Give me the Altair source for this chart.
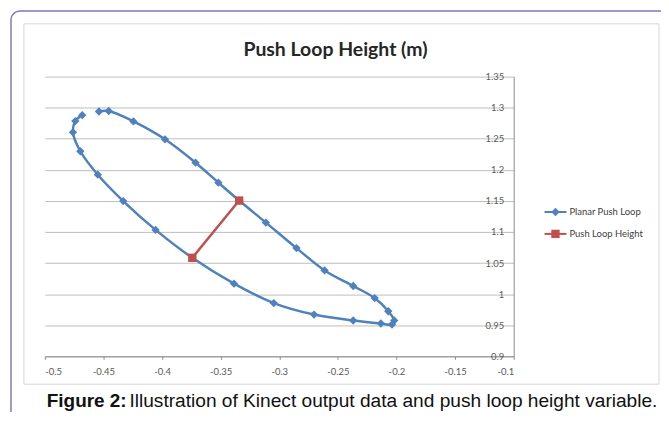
import altair as alt
import pandas as pd

# ---- data ----
loop_x = [-0.4538, -0.4455, -0.4244, -0.3975, -0.3714, -0.3519, -0.3342, -0.3114,
          -0.2853, -0.2613, -0.2369, -0.2186, -0.2070, -0.2019, -0.2038, -0.2133,
          -0.2369, -0.2703, -0.3047, -0.3386, -0.3742, -0.4055, -0.4331, -0.4548,
          -0.4697, -0.4760, -0.4740, -0.4681]
loop_y = [1.2939, 1.2947, 1.2779, 1.2491, 1.2115, 1.1794, 1.1506, 1.1151,
          1.0741, 1.0382, 1.0132, 0.9937, 0.9725, 0.9576, 0.9512, 0.9528,
          0.9576, 0.9672, 0.9857, 1.0169, 1.0585, 1.1034, 1.1498, 1.1922,
          1.2299, 1.2603, 1.2784, 1.2880]
height_x = [-0.3342, -0.3742]
height_y = [1.1506, 1.0585]
series_names = ["Planar Push Loop", "Push Loop Height"]
series_colors = ["#4f81bd", "#c0504d"]
series_shapes = ["diamond", "square"]
x_ticks = [-0.5, -0.45, -0.4, -0.35, -0.3, -0.25, -0.2, -0.15, -0.1]
y_ticks = [0.9, 0.95, 1.0, 1.05, 1.1, 1.15, 1.2, 1.25, 1.3, 1.35]
chart_title = "Push Loop Height (m)"
caption_bold = "Figure 2:"
caption_text = "Illustration of Kinect output data and push loop height variable."

rows = []
for i, (x, y) in enumerate(zip(loop_x, loop_y)):
    rows.append({"x": x, "y": y, "series": series_names[0], "idx": i})
for i, (x, y) in enumerate(zip(height_x, height_y)):
    rows.append({"x": x, "y": y, "series": series_names[1], "idx": i})
df = pd.DataFrame(rows)
leg_df = pd.DataFrame({"series": series_names, "pos": list(range(len(series_names)))})

W, H = 471, 281
one = pd.DataFrame({"k": [0]})

color = alt.Color("series:N", scale=alt.Scale(domain=series_names, range=series_colors),
                  legend=None)
shape = alt.Shape("series:N", scale=alt.Scale(domain=series_names, range=series_shapes),
                  legend=None)
size = alt.Size("series:N", scale=alt.Scale(domain=series_names, range=[70, 70]),
                legend=None)

xenc = alt.X("x:Q", scale=alt.Scale(domain=[-0.5, -0.1], nice=False, zero=False),
             axis=alt.Axis(values=x_ticks, tickCount=len(x_ticks) + 2, title=None, grid=False,
                           domainColor="#8c8c8c", tickColor="#8c8c8c", tickSize=3,
                           labelPadding=7, labelFont="Lato", labelFontSize=9.5,
                           labelColor="#595959", labelOverlap=False,
                           labelExpr="'-' + format(-datum.value, '.2~f')"))
yenc = alt.Y("y:Q", scale=alt.Scale(domain=[0.9, 1.35], nice=False, zero=False),
             axis=alt.Axis(values=y_ticks, tickCount=len(y_ticks) + 2, orient="right",
                           title=None, grid=True, gridColor="#bdbdbd", gridWidth=1,
                           domainColor="#8c8c8c", ticks=False, tickSize=0, labelPadding=-10,
                           labelAlign="right", labelFont="Lato", labelFontSize=9.5,
                           labelColor="#595959", labelOverlap=False, format=".2~f"))

outer = alt.Chart(one).mark_rect(fill="white", fillOpacity=0, stroke="#7f7ab6",
                                  strokeWidth=1.5, cornerRadius=9).encode(
    x=alt.value(-34), x2=alt.value(660), y=alt.value(-66), y2=alt.value(430))
inner = alt.Chart(one).mark_rect(fill="white", fillOpacity=0, stroke="#d6d6d6",
                                  strokeWidth=1).encode(
    x=alt.value(-21), x2=alt.value(617), y=alt.value(-53), y2=alt.value(309))

lines = alt.Chart(df).mark_line(interpolate="catmull-rom", strokeWidth=2.5).encode(
    x=xenc, y=yenc, color=color, detail="series:N", order=alt.Order("idx:Q"))
points = alt.Chart(df).mark_point(filled=True, opacity=1).encode(
    x="x:Q", y="y:Q", color=color, shape=shape, size=size)
data_layer = alt.layer(lines, points)

# legend built from the series list
leg_y = alt.Y("pos:Q", scale=alt.Scale(domain=[0, 1], range=[136, 158], nice=False, zero=False),
              axis=None)
leg_rule = alt.Chart(leg_df).mark_rule(strokeWidth=2).encode(
    x=alt.value(502), x2=alt.value(524), y=leg_y, color=color)
leg_pt = alt.Chart(leg_df).mark_point(filled=True, opacity=1).encode(
    x=alt.value(513), y=leg_y, color=color, shape=shape,
    size=alt.Size("series:N", scale=alt.Scale(domain=series_names, range=[45, 45]), legend=None))
leg_txt = alt.Chart(leg_df).mark_text(align="left", baseline="middle", font="Lato",
                                      fontSize=9.5, color="#404040").encode(
    x=alt.value(527), y=leg_y, text="series:N")
legend_layer = alt.layer(leg_rule, leg_pt, leg_txt)

title = alt.Chart(one).mark_text(font="Lato", fontWeight="bold", fontSize=19.5,
                                 color="#262626", align="center", baseline="middle").encode(
    x=alt.value(292), y=alt.value(-27), text=alt.value(chart_title))
cap1 = alt.Chart(one).mark_text(font="Liberation Sans", fontWeight="bold", fontSize=19,
                                color="#111111", align="left", baseline="alphabetic").encode(
    x=alt.value(2), y=alt.value(332), text=alt.value(caption_bold))
cap2 = alt.Chart(one).mark_text(font="Liberation Sans", fontSize=19.2, color="#111111",
                                align="left", baseline="alphabetic").encode(
    x=alt.value(85), y=alt.value(332), text=alt.value(caption_text))

chart = alt.layer(outer, inner, data_layer, legend_layer, title, cap1, cap2).resolve_scale(
    y="independent").properties(
    width=W, height=H,
    autosize=alt.AutoSizeParams(type="none"),
    padding={"left": 37, "top": 68, "right": 148, "bottom": 55},
    background="white",
).configure_view(stroke=None)

chart.save("out.html", embed_options={"renderer": "svg", "actions": False})
